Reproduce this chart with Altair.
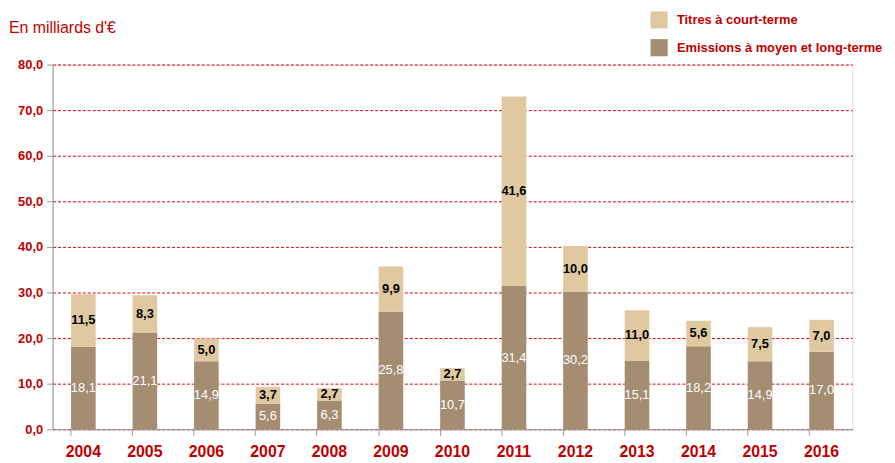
import altair as alt
import pandas as pd

years = ["2004","2005","2006","2007","2008","2009","2010","2011","2012","2013","2014","2015","2016"]
moyen_long = [18.1, 21.1, 14.9, 5.6, 6.3, 25.8, 10.7, 31.4, 30.2, 15.1, 18.2, 14.9, 17.0]
court = [11.5, 8.3, 5.0, 3.7, 2.7, 9.9, 2.7, 41.6, 10.0, 11.0, 5.6, 7.5, 7.0]

S_CT = "Titres à court-terme"
S_ML = "Emissions à moyen et long-terme"
LIGHT = "#E0C9A0"
DARK = "#A58D72"
RED = "#C00000"
FONT = "Liberation Sans"

df = pd.DataFrame({"year": years, "ml": moyen_long, "ct": court})

base = alt.Chart(df)

xaxis = alt.Axis(labelColor=RED, labelFontWeight="bold", labelFontSize=16,
                 labelFont=FONT, labelPadding=9, labelAngle=0, title=None,
                 domainColor="#999999", tickColor="#999999", tickSize=6,
                 bandPosition=0, grid=False)
yaxis = alt.Axis(values=[0, 10, 20, 30, 40, 50, 60, 70, 80], title=None,
                 labelExpr="replace(format(datum.value,'.1f'),'.',',')",
                 labelColor=RED, labelFontWeight="bold", labelFontSize=13,
                 labelFont=FONT, labelPadding=4,
                 domainColor="#999999", tickColor="#999999", tickSize=6,
                 grid=True, gridColor="#E00000", gridOpacity=1,
                 gridDash=[3, 2], gridWidth=1)
xscale = alt.Scale(paddingInner=0.6, paddingOuter=0.3)
yscale = alt.Scale(domain=[0, 80])

bars = base.transform_fold(["ml", "ct"], as_=["key", "value"]).transform_calculate(
    series=f"datum.key == 'ml' ? '{S_ML}' : '{S_CT}'",
    ordr="datum.key == 'ml' ? 0 : 1",
).mark_bar().encode(
    x=alt.X("year:N", sort=years, scale=xscale, axis=xaxis, title=None),
    y=alt.Y("value:Q", stack="zero", title=None, scale=yscale, axis=yaxis),
    color=alt.Color("series:N",
                    scale=alt.Scale(domain=[S_CT, S_ML], range=[LIGHT, DARK]),
                    legend=alt.Legend(title=None, orient="none", legendX=603, legendY=-54,
                                      symbolType="square", symbolSize=300,
                                      symbolStrokeWidth=0, rowPadding=10, labelLimit=0,
                                      labelColor=RED, labelFontWeight="bold",
                                      labelFontSize=13, labelFont=FONT, labelOffset=9)),
    order=alt.Order("ordr:Q"),
)

lab_ml = base.transform_calculate(
    mid="datum.ml / 2",
    txt="replace(format(datum.ml,'.1f'),'.',',')",
).mark_text(color="white", fontSize=13, font=FONT).encode(
    x=alt.X("year:N", sort=years, scale=xscale, axis=xaxis, title=None),
    y=alt.Y("mid:Q", scale=yscale, axis=yaxis, title=None), text="txt:N")

lab_ct = base.transform_calculate(
    mid="datum.ml + datum.ct / 2",
    txt="replace(format(datum.ct,'.1f'),'.',',')",
).mark_text(color="black", fontSize=13, fontWeight="bold", font=FONT).encode(
    x=alt.X("year:N", sort=years, scale=xscale, axis=xaxis, title=None),
    y=alt.Y("mid:Q", scale=yscale, axis=yaxis, title=None), text="txt:N")

chart = alt.layer(bars, lab_ml, lab_ct).properties(
    width=807, height=368,
    title=alt.TitleParams("En milliards d'€", anchor="start", color=RED, fontSize=16,
                          font=FONT, fontWeight="normal", frame="group", dx=-44, dy=29),
    autosize=alt.AutoSizeParams(type="none"),
    padding={"left": 45, "top": 55, "right": 35, "bottom": 32},
).configure_view(stroke=None).configure(background="white")

chart.save("out.html", embed_options={"renderer": "svg", "actions": False})
